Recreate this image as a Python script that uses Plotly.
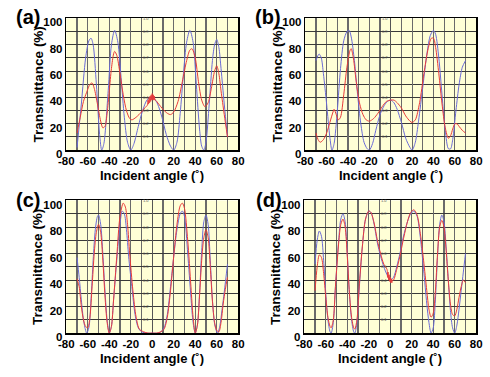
import plotly.graph_objects as go

# ---------------- data ----------------
a_blue_x = [-70, -66, -62, -59, -57, -55, -52, -49, -47, -45, -41, -38, -35, -32, -29, -26, -23, -20, -17, -13, -9, -5, -2, 0, 2, 5, 9, 13, 17, 20, 23, 26, 29, 32, 35, 38, 41, 44, 46, 48, 50, 53, 56, 58, 60, 62, 64, 67, 70]
a_blue_y = [2, 35, 70, 83, 85, 80, 50, 12, 0, 5, 45, 80, 91, 82, 55, 25, 6, 0, 5, 18, 30, 38, 40, 40, 39, 35, 25, 12, 3, 0, 6, 28, 58, 82, 91, 82, 50, 16, 3, 0, 6, 35, 68, 80, 84, 78, 62, 35, 10]
a_red_x = [-70, -67, -64, -61, -58, -56, -54, -51, -48, -46, -44, -42, -40, -38, -36, -35, -33, -30, -27, -24, -21, -19, -15, -10, -6, -4.5, -4, -3.5, -3, -2.5, -2, -1.5, -1, -0.5, 0, 0.5, 1, 1.5, 2, 2.5, 3, 6, 10, 14, 17, 20, 24, 28, 32, 35, 37, 40, 43, 46, 49, 52, 55, 58, 60, 62, 64, 67, 70]
a_red_y = [13, 25, 37, 44, 50, 51, 47, 35, 22, 17, 18, 28, 45, 62, 73, 75, 72, 58, 42, 30, 24, 23, 25, 29, 33, 34, 38, 35, 40, 36, 41, 37, 42, 38, 43, 38, 42, 38, 41, 38, 38, 35, 31, 28, 27, 29, 37, 52, 68, 76, 77, 70, 52, 38, 33, 36, 47, 60, 64, 58, 45, 27, 10]

b_blue_x = [-70, -68, -67, -65, -63, -60, -57, -55, -53, -50, -47, -44, -41, -39, -37, -34, -31, -28, -25, -22, -20, -17, -14, -10, -6, -3, 0, 3, 6, 10, 14, 18, 20, 23, 26, 30, 34, 37, 40, 42, 45, 48, 51, 54, 56, 58, 61, 64, 67, 70]
b_blue_y = [68, 72, 73, 70, 58, 35, 10, 0, 5, 30, 62, 83, 90, 91, 86, 68, 42, 20, 6, 1, 0, 5, 15, 27, 34, 37, 38, 36, 31, 21, 9, 2, 0, 6, 22, 48, 74, 87, 91, 88, 70, 42, 15, 1, 1, 8, 30, 50, 63, 68]
b_red_x = [-70, -68, -66, -63, -60, -57, -54, -53, -51, -49, -47, -44, -41, -38, -37, -35, -32, -29, -26, -23, -20, -16, -12, -8, -4, 0, 3, 6, 10, 14, 18, 20, 23, 27, 31, 35, 38, 40, 42, 45, 48, 51, 54, 56, 58, 60, 62, 64, 67, 70]
b_red_y = [13, 8, 6, 8, 13, 21, 29, 31, 27, 23, 25, 42, 63, 76, 77, 70, 50, 35, 27, 23, 22, 24, 28, 33, 37, 38, 38, 36, 32, 26, 22, 21, 23, 36, 58, 77, 85, 85, 78, 58, 35, 17, 9, 11, 16, 20, 20, 18, 15, 13]

c_blue_x = [-70, -68, -66, -64, -62, -61, -59, -57, -55, -53, -51, -50, -48, -46, -44, -42, -40, -38, -36, -33, -30, -28, -26, -24, -22, -19, -16, -13, -10, -5, 0, 5, 8, 11, 14, 17, 20, 23, 26, 28, 30, 33, 36, 38, 40, 42, 44, 46, 48, 50, 52, 54, 56, 58, 60, 61, 63, 65, 67, 70]
c_blue_y = [57, 42, 25, 10, 2, 0, 4, 25, 55, 78, 88, 89, 82, 60, 32, 10, 0, 5, 25, 55, 82, 92, 90, 78, 58, 35, 14, 4, 1, 0, 0, 0, 1, 4, 14, 35, 58, 78, 90, 92, 88, 60, 27, 8, 0, 6, 30, 62, 84, 89, 82, 55, 25, 7, 1, 0, 6, 18, 31, 52]
c_red_x = [-70, -68, -66, -64, -62, -60, -58, -56, -54, -52, -50, -48, -46, -44, -42, -40, -38, -36, -33, -30, -27, -25, -23, -21, -18, -15, -12, -8, -4, 0, 4, 8, 11, 14, 17, 20, 23, 26, 28, 30, 33, 36, 38, 40, 42, 44, 46, 48, 50, 52, 54, 56, 58, 60, 62, 64, 66, 68, 70]
c_red_y = [41, 35, 20, 10, 5, 4, 12, 35, 60, 76, 82, 76, 55, 28, 8, 0, 5, 25, 58, 88, 98, 95, 82, 60, 32, 12, 3, 1, 0, 0, 0, 1, 3, 12, 32, 58, 82, 96, 98, 94, 70, 35, 12, 0, 6, 28, 55, 72, 78, 72, 50, 24, 8, 2, 1, 8, 22, 33, 42]

d_blue_x = [-70, -68, -66, -64, -62, -60, -58, -56, -55, -53, -51, -48, -46, -44, -42, -40, -38, -36, -34, -33, -31, -29, -26, -23, -20, -18, -15, -12, -9, -6, -3, 0, 3, 6, 9, 12, 16, 19, 22, 25, 28, 31, 34, 36, 38, 40, 42, 44, 46, 48, 50, 52, 54, 56, 58, 60, 62, 64, 66, 68, 70]
d_blue_y = [52, 70, 77, 73, 55, 30, 10, 1, 0, 8, 35, 70, 86, 90, 84, 60, 30, 10, 1, 0, 8, 32, 65, 86, 92, 91, 82, 68, 58, 50, 44, 40, 42, 50, 60, 72, 84, 90, 92, 88, 72, 48, 22, 8, 0, 4, 25, 58, 82, 89, 84, 65, 40, 17, 4, 0, 6, 18, 32, 46, 60]
d_red_x = [-70, -68, -66, -64, -62, -60, -58, -56, -55, -53, -51, -48, -46, -44, -42, -40, -38, -36, -34, -33, -31, -29, -26, -23, -20, -18, -15, -12, -9, -6, -3, -2.5, -2, -1.5, -1, -0.5, 0, 0.5, 1, 1.5, 2, 3, 6, 9, 12, 16, 19, 22, 25, 28, 31, 34, 36, 38, 40, 42, 44, 46, 48, 50, 52, 54, 56, 58, 60, 62, 64, 66, 68, 70]
d_red_y = [32, 50, 59, 57, 45, 27, 12, 5, 4, 10, 35, 68, 82, 86, 80, 58, 30, 12, 4, 3, 10, 34, 65, 86, 92, 91, 83, 70, 60, 52, 48, 42, 46, 40, 44, 39, 42, 38, 41, 38, 40, 40, 48, 58, 70, 84, 91, 93, 89, 75, 55, 32, 18, 12, 15, 32, 60, 80, 85, 80, 62, 40, 22, 14, 13, 18, 27, 35, 40, 38]

panel_labels = ["(a)", "(b)", "(c)", "(d)"]
x_title = "Incident angle (˚)"
y_title = "Transmittance (%)"
x_ticks = [-80, -60, -40, -20, 0, 20, 40, 60, 80]
y_ticks = [0, 20, 40, 60, 80, 100]
inner_ticks = ["0.1", "0.2", "0.3", "0.4", "0.5", "0.6", "0.7", "0.8", "0.9", "1.0"]

# ---------------- layout geometry ----------------
W, H = 490, 377
BLUE = "#6a6ad6"
RED = "#e83a3a"
BG = "#ffffd6"
FONT = "Liberation Sans, Arial, sans-serif"

panels = [
    (a_blue_x, a_blue_y, a_red_x, a_red_y, (60, 237), (17, 153), (21, 16)),
    (b_blue_x, b_blue_y, b_red_x, b_red_y, (306, 482), (17, 153), (268, 16)),
    (c_blue_x, c_blue_y, c_red_x, c_red_y, (60, 237), (205, 342), (21, 204)),
    (d_blue_x, d_blue_y, d_red_x, d_red_y, (305, 482), (205, 342), (269, 204)),
]

fig = go.Figure()
annotations = []
layout = dict(
    width=W, height=H,
    margin=dict(l=0, r=0, t=0, b=0),
    paper_bgcolor="white",
    plot_bgcolor=BG,
    showlegend=False,
    font=dict(family=FONT, color="black"),
)

tick_font = dict(size=11.5, family=FONT, color="black")

for i, (bx, by, rx, ry, (x0, x1), (y0, y1), (lx, ly)) in enumerate(panels):
    n = "" if i == 0 else str(i + 1)
    xa, ya = "x" + n, "y" + n
    fig.add_trace(go.Scatter(x=bx, y=by, mode="lines", xaxis=xa, yaxis=ya,
                             line=dict(color=BLUE, width=1, shape="spline", smoothing=0.8)))
    fig.add_trace(go.Scatter(x=rx, y=ry, mode="lines", xaxis=xa, yaxis=ya,
                             line=dict(color=RED, width=1, shape="spline", smoothing=0.8)))
    layout["xaxis" + n] = dict(
        domain=[x0 / W, x1 / W], anchor=ya, range=[-80, 80],
        tickvals=x_ticks, ticktext=["<b>%d</b>" % v for v in x_ticks],
        showgrid=True, gridcolor="#6a6a6a", gridwidth=1.2,
        minor=dict(dtick=10, showgrid=True, gridcolor="#6a6a6a", gridwidth=1.2, tick0=-80),
        zeroline=True, zerolinecolor="#555", zerolinewidth=1.2,
        showline=True, linecolor="black", linewidth=1.5, mirror=True,
        ticks="", ticklen=0, tickfont=tick_font,
        fixedrange=True,
    )
    layout["yaxis" + n] = dict(
        domain=[1 - y1 / H, 1 - y0 / H], anchor=xa, range=[0, 100],
        tickvals=y_ticks, ticktext=["<b>%d</b>" % v for v in y_ticks],
        showgrid=True, gridcolor="#3a3a3a", gridwidth=1,
        minor=dict(dtick=10, showgrid=True, gridcolor="#3a3a3a", gridwidth=1, tick0=0),
        zeroline=False,
        showline=True, linecolor="black", linewidth=1.5, mirror=True,
        ticks="", ticklen=0, ticklabelshift=4, tickfont=tick_font,
        fixedrange=True,
    )
    annotations.append(dict(text="<b>%s</b>" % panel_labels[i], x=lx / W, y=1 - ly / H,
                            xref="paper", yref="paper", showarrow=False,
                            xanchor="center", yanchor="middle",
                            font=dict(size=20, family=FONT, color="black")))
    annotations.append(dict(text="<b>%s</b>" % x_title, x=(x0 + x1) / 2 / W, y=1 - (y1 + 26) / H,
                            xref="paper", yref="paper", showarrow=False,
                            xanchor="center", yanchor="middle",
                            font=dict(size=13, family=FONT, color="black")))
    annotations.append(dict(text="<b>%s</b>" % y_title, x=(x0 - 29) / W, y=1 - (y0 + y1) / 2 / H,
                            xref="paper", yref="paper", showarrow=False, textangle=-90,
                            xanchor="center", yanchor="middle",
                            font=dict(size=13.5, family=FONT, color="black")))
    for k, t in enumerate(inner_ticks):
        annotations.append(dict(text=t, x=-0.8, y=(k + 1) * 10, xref=xa, yref=ya,
                                showarrow=False, xanchor="right", yanchor="middle",
                                font=dict(size=4, family=FONT, color="#555")))

layout["annotations"] = annotations
fig.update_layout(**layout)
fig.write_html("out.html", config={"displayModeBar": False, "staticPlot": True},
               post_script="document.body.style.margin='0';document.body.style.overflow='hidden';")
